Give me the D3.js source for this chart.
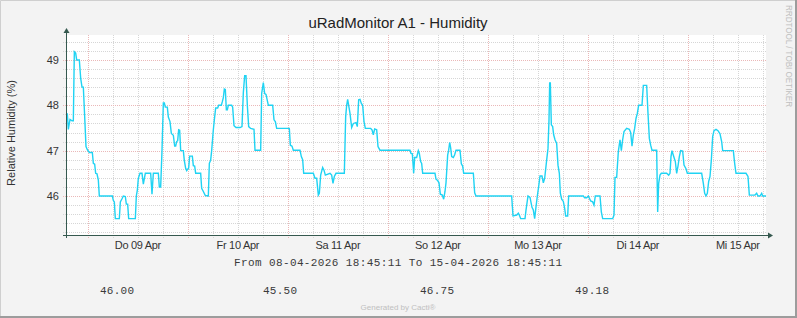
<!DOCTYPE html>
<html>
<head>
<meta charset="utf-8">
<script src="https://cdn.jsdelivr.net/npm/d3@7"></script>
<style>
  html, body { margin: 0; padding: 0; background: #fff; }
  svg { display: block; }
</style>
</head>
<body>
<div id="chart"></div>
<script>
// hours since 08-04-2026 18:45:11 and relative humidity (%)
const hours = [
  0, 0.32, 0.56, 0.96, 1.44, 1.76, 2.0, 2.32, 2.56, 3.2, 3.52, 3.84, 4.16, 4.48, 4.8, 5.12, 5.6, 6.32, 6.56, 6.88,
  7.12, 7.44, 7.76, 8.0, 11.12, 11.36, 11.6, 11.84, 12.8, 13.04, 13.44, 13.76, 14.24, 14.48, 14.8, 15.04, 16.64, 16.88, 17.12, 17.36,
  17.76, 18.24, 18.56, 19.04, 20.32, 20.64, 20.96, 22.16, 22.4, 22.72, 23.04, 23.36, 23.6, 23.84, 24.32, 24.56, 24.96, 25.28, 25.76, 26.08,
  26.32, 26.56, 26.8, 27.04, 27.28, 27.52, 28.16, 28.4, 28.72, 28.96, 29.44, 29.68, 30.32, 30.56, 30.88, 31.12, 32.32, 32.56, 32.96, 33.44,
  34.16, 34.4, 34.72, 34.96, 35.36, 35.6, 35.92, 36.4, 36.64, 37.28, 37.52, 37.76, 38.0, 38.24, 38.48, 38.72, 38.96, 39.76, 40.0, 40.32,
  40.8, 41.76, 42.24, 42.56, 42.88, 43.2, 43.52, 43.84, 44.32, 45.12, 45.36, 46.72, 46.96, 47.36, 47.68, 48.0, 48.56, 49.6, 49.92, 50.24,
  50.56, 53.6, 53.84, 54.24, 54.56, 56.16, 56.48, 56.8, 57.04, 59.36, 59.76, 60.16, 60.56, 60.8, 61.12, 61.6, 61.92, 62.24, 63.36, 63.76,
  64.08, 64.4, 64.8, 66.8, 67.12, 67.36, 67.6, 67.84, 68.16, 68.56, 68.96, 69.6, 69.92, 70.24, 70.56, 70.88, 71.2, 71.52, 71.84, 73.12,
  73.44, 73.76, 74.08, 74.56, 74.88, 75.36, 82.56, 82.8, 83.12, 83.44, 83.68, 84.16, 84.56, 84.8, 85.12, 85.36, 85.6, 88.56, 88.8, 89.2,
  89.52, 89.84, 90.32, 90.64, 90.96, 91.2, 91.6, 91.84, 92.08, 92.32, 92.56, 92.96, 93.28, 93.6, 94.56, 94.88, 95.2, 95.44, 97.76, 98.08,
  98.4, 106.96, 107.28, 108.16, 108.56, 108.8, 109.12, 110.16, 110.4, 110.88, 111.36, 111.84, 112.16, 112.48, 112.8, 113.12, 113.44, 113.76, 114.24, 114.56,
  114.88, 115.36, 115.68, 115.92, 116.08, 116.24, 116.48, 116.8, 117.04, 117.36, 117.76, 118.08, 118.4, 118.64, 118.96, 119.36, 119.68, 119.92, 120.4, 120.64,
  124.16, 124.48, 124.96, 125.36, 125.92, 126.4, 126.72, 127.04, 128.16, 128.48, 128.8, 131.2, 131.52, 131.76, 132.16, 132.56, 132.96, 133.28, 133.6, 133.92,
  134.56, 135.2, 135.52, 135.84, 136.16, 136.48, 136.8, 137.12, 137.44, 138.24, 138.56, 139.36, 139.68, 140.0, 140.32, 140.64, 141.76, 142.0, 142.24, 142.56,
  142.88, 144.16, 144.64, 144.96, 145.2, 145.44, 145.76, 146.24, 146.56, 146.88, 147.2, 147.52, 148.0, 148.32, 148.8, 149.12, 152.56, 152.96, 153.28, 153.6,
  153.92, 154.24, 154.56, 154.88, 155.2, 155.52, 156.0, 156.48, 156.96, 157.36, 157.6, 160.16, 160.48, 160.8, 163.2, 163.68, 164.0, 165.36, 165.76, 166.08,
  166.56, 166.96, 167.2, 168.0
];
const humidity = [
  47.81, 47.81, 47.47, 47.69, 47.66, 47.66, 49.18, 49.15, 49.0, 49.0, 48.6, 48.4, 48.4, 47.76, 47.09, 47.02, 46.96, 46.96, 46.72, 46.7,
  46.5, 46.49, 46.35, 46.0, 46.0, 45.9, 45.87, 45.5, 45.5, 45.87, 45.94, 46.0, 45.99, 45.82, 45.82, 45.5, 45.5, 46.0, 46.13, 46.39,
  46.5, 46.5, 46.26, 46.5, 46.5, 46.04, 46.5, 46.5, 46.2, 46.2, 47.0, 48.05, 48.05, 47.96, 47.96, 47.74, 47.64, 47.38, 47.34, 47.1,
  47.1, 47.2, 47.22, 47.46, 47.45, 47.0, 47.0, 46.78, 46.61, 46.56, 46.62, 46.88, 46.88, 46.67, 46.66, 46.5, 46.5, 46.17, 46.1, 46.01,
  46.0, 46.72, 46.79, 47.0, 47.46, 47.68, 47.94, 47.94, 48.0, 48.0, 48.08, 48.17, 48.36, 48.35, 47.9, 47.9, 48.0, 48.0, 47.96, 47.55,
  47.51, 47.51, 47.53, 48.28, 48.65, 48.65, 48.0, 47.53, 47.49, 47.47, 47.01, 47.01, 48.26, 48.5, 48.26, 48.24, 48.0, 48.0, 47.68, 47.64,
  47.49, 47.49, 47.12, 47.1, 47.01, 47.01, 46.87, 46.8, 46.5, 46.5, 46.39, 46.39, 46.02, 46.06, 46.46, 46.63, 46.57, 46.46, 46.5, 46.46,
  46.28, 46.43, 46.5, 46.5, 47.75, 48.0, 48.13, 48.0, 47.82, 47.51, 47.6, 47.62, 47.53, 48.12, 48.13, 48.04, 48.0, 47.64, 47.49, 47.49,
  47.46, 47.35, 47.48, 47.46, 47.09, 47.01, 47.01, 46.94, 46.93, 46.5, 46.85, 46.85, 47.0, 46.94, 46.76, 46.72, 46.5, 46.5, 46.37, 46.34,
  46.29, 46.04, 46.02, 45.93, 46.1, 46.29, 46.9, 47.01, 47.18, 47.06, 46.87, 46.85, 46.91, 47.01, 47.01, 46.71, 46.66, 46.5, 46.5, 46.07,
  46.0, 46.0, 45.56, 45.58, 45.62, 45.58, 45.5, 45.5, 45.69, 46.0, 45.97, 45.75, 45.69, 45.5, 45.76, 46.0, 46.21, 46.44, 46.44, 46.29,
  46.39, 46.79, 47.05, 47.68, 48.49, 48.49, 47.57, 47.53, 47.35, 47.24, 47.16, 46.68, 46.5, 46.06, 45.93, 45.88, 45.73, 45.56, 45.56, 46.0,
  46.0, 45.96, 45.96, 46.0, 45.89, 45.87, 45.8, 46.0, 46.0, 45.65, 45.5, 45.5, 45.58, 46.41, 46.41, 46.98, 47.24, 47.0, 47.24, 47.42,
  47.49, 47.47, 47.4, 47.1, 47.34, 47.49, 47.71, 47.82, 48.0, 48.0, 48.44, 48.44, 47.82, 47.27, 47.12, 47.01, 47.01, 45.65, 46.28, 46.46,
  46.5, 46.5, 46.46, 46.5, 46.87, 47.0, 46.9, 46.76, 46.5, 46.66, 46.87, 47.0, 46.99, 46.68, 46.6, 46.5, 46.5, 46.28, 46.06, 46.0,
  46.06, 46.32, 46.43, 46.79, 47.31, 47.44, 47.47, 47.44, 47.37, 47.2, 47.0, 47.0, 46.72, 46.5, 46.5, 46.43, 46.02, 46.02, 46.06, 46.0,
  46.0, 46.06, 46.0, 46.0
];
const dayLabels = ["Do 09 Apr", "Fr 10 Apr", "Sa 11 Apr", "So 12 Apr", "Mo 13 Apr", "Di 14 Apr", "Mi 15 Apr"];
const yTicks = [46, 47, 48, 49];
const legendValues = ["46.00", "45.50", "46.75", "49.18"];
const startTime = "2026-04-08T18:45:11Z";
const endTime = "2026-04-15T18:45:11Z";

const W = 797, H = 318;
const plot = { left: 66, right: 766, top: 35, bottom: 235 };

const t0 = new Date(startTime), t1 = new Date(endTime);
const data = hours.map((h, i) => ({ date: new Date(+t0 + h * 3600e3), value: humidity[i] }));

const x = d3.scaleUtc().domain([t0, t1]).range([plot.left, plot.right]);
const y = d3.scaleLinear().domain([45.14, 49.55]).range([plot.bottom, plot.top]);

const svg = d3.select('#chart').append('svg')
    .attr('width', W)
    .attr('height', H);

// background + frame
svg.append('rect').attr('width', W).attr('height', H).attr('fill', '#f3f3f3');
svg.append('path').attr('d', `M0.5,${H} V0.5 H${W}`).attr('fill', 'none').attr('stroke', '#cfcfcf');
svg.append('path').attr('d', `M0,${H - 1} H${W - 1} V0`).attr('fill', 'none').attr('stroke', '#9c9c9c').attr('stroke-width', 2);

// canvas
svg.append('rect')
    .attr('x', plot.left).attr('y', plot.top)
    .attr('width', plot.right - plot.left).attr('height', plot.bottom - plot.top)
    .attr('fill', '#ffffff');

const grid = svg.append('g').attr('shape-rendering', 'crispEdges');
const minorColor = '#d6d6d6', majorColor = '#eab8b8';

// minor horizontal grid every 0.2
const minorY = d3.range(45.2, 49.55, 0.2).filter(v => Math.abs(v - Math.round(v)) > 0.01);
grid.selectAll('.hmin').data(minorY).join('line')
    .attr('x1', plot.left - 3).attr('x2', plot.right)
    .attr('y1', d => Math.round(y(d)) + 0.5).attr('y2', d => Math.round(y(d)) + 0.5)
    .attr('stroke', minorColor).attr('stroke-dasharray', '1,1');

// minor vertical grid every 6 hours
const sixHours = d3.utcHour.every(6).range(t0, t1).filter(d => d.getUTCHours() !== 0);
grid.selectAll('.vmin').data(sixHours).join('line')
    .attr('x1', d => Math.round(x(d)) + 0.5).attr('x2', d => Math.round(x(d)) + 0.5)
    .attr('y1', plot.top).attr('y2', plot.bottom + 3)
    .attr('stroke', minorColor).attr('stroke-dasharray', '1,1');

// major grid
grid.selectAll('.hmaj').data(yTicks).join('line')
    .attr('x1', plot.left - 3).attr('x2', plot.right)
    .attr('y1', d => Math.round(y(d)) + 0.5).attr('y2', d => Math.round(y(d)) + 0.5)
    .attr('stroke', majorColor).attr('stroke-dasharray', '1,1');

const days = d3.utcDay.range(t0, t1);
grid.selectAll('.vmaj').data(days).join('line')
    .attr('x1', d => Math.round(x(d)) + 0.5).attr('x2', d => Math.round(x(d)) + 0.5)
    .attr('y1', plot.top).attr('y2', plot.bottom + 3)
    .attr('stroke', majorColor).attr('stroke-dasharray', '1,1');

// data line
const line = d3.line()
    .x(d => x(d.date))
    .y(d => y(d.value));

svg.append('path')
    .datum(data)
    .attr('fill', 'none')
    .attr('stroke', '#1fd3f3')
    .attr('stroke-width', 1.4)
    .attr('stroke-linejoin', 'miter')
    .attr('d', line);

// axes with arrows
const axisColor = '#35594f';
svg.append('line')
    .attr('x1', plot.left + 0.5).attr('x2', plot.left + 0.5)
    .attr('y1', plot.bottom + 3).attr('y2', plot.top - 4)
    .attr('stroke', axisColor);
svg.append('line')
    .attr('x1', plot.left - 3).attr('x2', plot.right + 3)
    .attr('y1', plot.bottom + 0.5).attr('y2', plot.bottom + 0.5)
    .attr('stroke', axisColor);
svg.append('path')
    .attr('d', `M${plot.left - 2.5},${plot.top - 2} L${plot.left + 0.5},${plot.top - 7} L${plot.left + 3.5},${plot.top - 2} Z`)
    .attr('fill', axisColor);
svg.append('path')
    .attr('d', `M${plot.right + 2},${plot.bottom - 2.5} L${plot.right + 7},${plot.bottom + 0.5} L${plot.right + 2},${plot.bottom + 3.5} Z`)
    .attr('fill', axisColor);

// y tick labels
svg.append('g').selectAll('text').data(yTicks).join('text')
    .attr('x', 59).attr('y', d => y(d) + 4)
    .attr('text-anchor', 'end')
    .attr('font-family', 'Liberation Sans, Arial, sans-serif')
    .attr('font-size', 11)
    .attr('fill', '#333')
    .text(d => d);

// x day labels at noon
svg.append('g').selectAll('text').data(days).join('text')
    .attr('x', d => x(d3.utcHour.offset(d, 12)))
    .attr('y', 249)
    .attr('text-anchor', 'middle')
    .attr('font-family', 'Liberation Sans, Arial, sans-serif')
    .attr('font-size', 11)
    .attr('letter-spacing', -0.3)
    .attr('fill', '#333')
    .text((d, i) => dayLabels[i]);

// title
svg.append('text')
    .attr('x', 398).attr('y', 28)
    .attr('text-anchor', 'middle')
    .attr('font-family', 'Liberation Sans, Arial, sans-serif')
    .attr('font-size', 15)
    .attr('fill', '#222')
    .text('uRadMonitor A1 - Humidity');

// y axis label
svg.append('text')
    .attr('transform', 'translate(15,133) rotate(-90)')
    .attr('text-anchor', 'middle')
    .attr('font-family', 'Liberation Sans, Arial, sans-serif')
    .attr('font-size', 11)
    .attr('fill', '#333')
    .text('Relative Humidity (%)');

// watermark
svg.append('text')
    .attr('transform', 'translate(786,5) rotate(90)')
    .attr('font-family', 'Liberation Sans, Arial, sans-serif')
    .attr('font-size', 9)
    .attr('fill', '#c0c0c0')
    .attr('textLength', 102)
    .attr('lengthAdjust', 'spacingAndGlyphs')
    .text('RRDTOOL / TOBI OETIKER');

// legend
const mono = 'Liberation Mono, DejaVu Sans Mono, monospace';
svg.append('text')
    .attr('x', 234).attr('y', 266)
    .attr('font-family', mono)
    .attr('font-size', 11)
    .attr('textLength', 328)
    .attr('fill', '#3a3a3a')
    .text('From 08-04-2026 18:45:11 To 15-04-2026 18:45:11');

const legendX = [100, 263, 420, 575];
svg.append('g').selectAll('text').data(legendValues).join('text')
    .attr('x', (d, i) => legendX[i]).attr('y', 294)
    .attr('font-family', mono)
    .attr('font-size', 11)
    .attr('textLength', 34)
    .attr('fill', '#3a3a3a')
    .text(d => d);

svg.append('text')
    .attr('x', 398).attr('y', 310)
    .attr('text-anchor', 'middle')
    .attr('font-family', 'Liberation Sans, Arial, sans-serif')
    .attr('font-size', 8)
    .attr('fill', '#c0c0c0')
    .text('Generated by Cacti®');
</script>
</body>
</html>
